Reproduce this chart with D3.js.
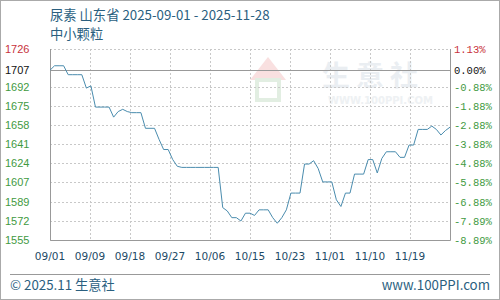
<!DOCTYPE html>
<html>
<head>
<meta charset="utf-8">
<script src="https://cdn.jsdelivr.net/npm/d3@7"></script>
<style>
  html, body { margin: 0; padding: 0; background: #fff; }
  svg { display: block; }
</style>
</head>
<body>
<div id="chart"></div>
<script>
// daily price, 2025-09-01 .. 2025-11-28 (yuan/ton)
const startDate = "2025-09-01";
const prices = [
  1707, 1711, 1711, 1711, 1703, 1703, 1703, 1703, 1691, 1693,
  1674, 1674, 1674, 1674, 1665, 1670, 1672, 1670, 1669, 1669,
  1669, 1655, 1655, 1655, 1645, 1636, 1636, 1627, 1621, 1620,
  1620, 1620, 1620, 1620, 1620, 1620, 1620, 1620, 1584, 1581,
  1575, 1575, 1572, 1579, 1579, 1577, 1582, 1582, 1582, 1575,
  1570, 1575, 1582, 1597, 1597, 1597, 1623, 1623, 1626, 1619,
  1607, 1607, 1607, 1591, 1585, 1597, 1597, 1614, 1614, 1614,
  1627, 1627, 1615, 1628, 1634, 1634, 1634, 1629, 1629, 1640,
  1640, 1654, 1654, 1654, 1657, 1654, 1649, 1653, 1656
];
const baseValue = 1707;
const leftTicks = [1726, 1707, 1692, 1675, 1658, 1641, 1624, 1607, 1589, 1572, 1555];
const rightTicks = ["1.13%", "0.00%", "-0.88%", "-1.88%", "-2.88%", "-3.88%", "-4.88%", "-5.88%", "-6.88%", "-7.89%", "-8.89%"];
const xTickLabels = ["09/01", "09/09", "09/18", "09/27", "10/06", "10/15", "10/23", "11/01", "11/10", "11/19"];

const W = 500, H = 300;
const M = {left: 50, right: 450, top: 49, bottom: 240};

const parse = d3.utcParse("%Y-%m-%d");
const t0 = parse(startDate);
const data = prices.map((v, i) => ({date: d3.utcDay.offset(t0, i), value: v}));
const t1 = data[data.length - 1].date;

const x = d3.scaleUtc().domain([t0, t1]).range([M.left, M.right]);
const y = d3.scaleLinear().domain([1555, 1726]).range([M.bottom, M.top]);

const svg = d3.select("#chart").append("svg")
    .attr("width", W).attr("height", H);

// outer frame
svg.append("rect")
    .attr("x", 0.5).attr("y", 0.5).attr("width", W - 1).attr("height", H - 1)
    .attr("fill", "#fff").attr("stroke", "#aaa");

// title
const titleColor = "#2b5f7f";
svg.append("text").attr("x", 50).attr("y", 20)
    .attr("fill", titleColor)
    .style("font", "13.3px 'Noto Sans CJK SC', sans-serif")
    .text("尿素 山东省 2025-09-01 - 2025-11-28");
svg.append("text").attr("x", 50).attr("y", 39)
    .attr("fill", titleColor)
    .style("font", "13.3px 'Noto Sans CJK SC', sans-serif")
    .text("中小颗粒");

// watermark
const wm = svg.append("g").attr("opacity", 0.6);
wm.append("path")
    .attr("d", "M250,80 L268,57 L286,80 Z")
    .attr("fill", "#f6cccc");
wm.append("rect").attr("x", 257).attr("y", 80).attr("width", 22).attr("height", 20)
    .attr("fill", "none").attr("stroke", "#cfe3cf").attr("stroke-width", 4);
wm.append("text").attr("x", 322).attr("y", 86)
    .attr("fill", "#dde4ea")
    .style("font", "bold 28px 'Noto Sans CJK SC', sans-serif")
    .style("letter-spacing", "6px")
    .text("生意社");
wm.append("text").attr("x", 328).attr("y", 104)
    .attr("fill", "#e3e8ec")
    .style("font", "bold 10px 'DejaVu Sans', sans-serif")
    .text("WWW.100PPI.COM");

// grid
const grid = svg.append("g");
const xTickPos = xTickLabels.map((d, i) => x(new Date(t0.getTime() + i * (t1 - t0) / 10)));
grid.selectAll("line.v")
    .data(xTickPos.slice(1))
    .join("line")
    .attr("x1", d => Math.round(d) + 0.5).attr("x2", d => Math.round(d) + 0.5)
    .attr("y1", M.top).attr("y2", M.bottom)
    .attr("stroke", "#c8c8c8").attr("stroke-dasharray", "2,2");
grid.selectAll("line.h")
    .data(leftTicks.filter(d => d !== baseValue))
    .join("line")
    .attr("x1", M.left).attr("x2", M.right)
    .attr("y1", d => Math.round(y(d)) + 0.5).attr("y2", d => Math.round(y(d)) + 0.5)
    .attr("stroke", "#c8c8c8").attr("stroke-dasharray", "2,2");
// base line
grid.append("line")
    .attr("x1", M.left).attr("x2", M.right)
    .attr("y1", Math.round(y(baseValue)) + 0.5).attr("y2", Math.round(y(baseValue)) + 0.5)
    .attr("stroke", "#999");

// frame: left, bottom, right
svg.append("path")
    .attr("d", `M${M.left + 0.5},${M.top}V${M.bottom + 0.5}H${M.right + 0.5}V${M.top}`)
    .attr("fill", "none").attr("stroke", "#999");

// line
const line = d3.line().x(d => x(d.date)).y(d => y(d.value));
svg.append("path")
    .datum(data)
    .attr("d", line)
    .attr("fill", "none")
    .attr("stroke", "#4a8cae")
    .attr("stroke-width", 1)
    .attr("stroke-linejoin", "round");

// left labels
const tickColor = (i) => i === 0 ? "#c8323c" : (i === 1 ? "#111" : "#3f9a3f");
svg.append("g").selectAll("text")
    .data(leftTicks)
    .join("text")
    .attr("x", 5).attr("y", d => y(d))
    .attr("dy", "0.36em")
    .attr("fill", (d, i) => tickColor(i))
    .style("font", "11px 'Liberation Sans', Arial, sans-serif")
    .text(d => d);

// right labels
svg.append("g").selectAll("text")
    .data(rightTicks)
    .join("text")
    .attr("x", 454).attr("y", (d, i) => y(leftTicks[i]))
    .attr("dy", "0.36em")
    .attr("fill", (d, i) => tickColor(i))
    .style("font", "10.5px 'Liberation Mono', monospace")
    .text(d => d);

// x labels
svg.append("g").selectAll("text")
    .data(xTickLabels)
    .join("text")
    .attr("x", (d, i) => xTickPos[i]).attr("y", 260)
    .attr("text-anchor", "middle")
    .attr("fill", "#1d4a66")
    .style("font", "10.5px 'DejaVu Sans', sans-serif")
    .text(d => d);

// footer
svg.append("line")
    .attr("x1", 10).attr("x2", 490).attr("y1", 274.5).attr("y2", 274.5)
    .attr("stroke", "#999");
svg.append("text").attr("x", 10).attr("y", 290)
    .attr("fill", titleColor)
    .style("font", "13.3px 'Noto Sans CJK SC', sans-serif")
    .text("© 2025.11 生意社");
svg.append("text").attr("x", 490).attr("y", 290)
    .attr("text-anchor", "end")
    .attr("fill", titleColor)
    .style("font", "13.3px 'Noto Sans CJK SC', sans-serif")
    .text("www.100PPI.com");
</script>
</body>
</html>
